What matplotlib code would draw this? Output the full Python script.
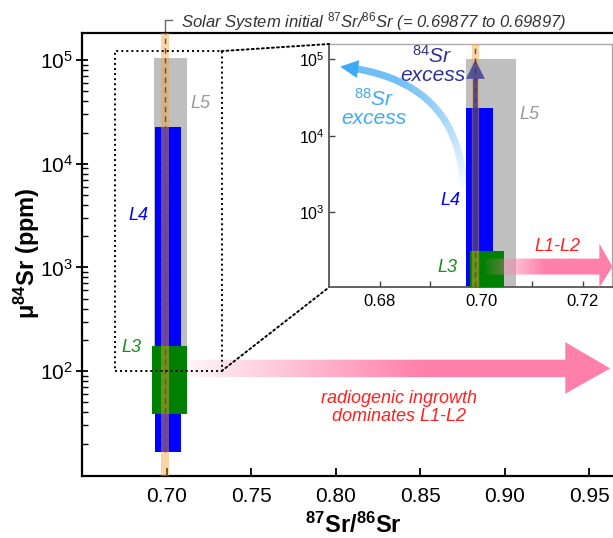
import numpy as np
import matplotlib
matplotlib.use('Agg')
import matplotlib.pyplot as plt
from matplotlib.patches import Polygon, Rectangle, ConnectionPatch
from matplotlib.collections import LineCollection
from matplotlib.colors import to_rgba
from matplotlib.ticker import FixedLocator, FormatStrFormatter, LogLocator, NullLocator

plt.rcParams['font.family'] = ['Liberation Sans', 'DejaVu Sans']
plt.rcParams['mathtext.fontset'] = 'custom'
plt.rcParams['mathtext.rm'] = 'Liberation Sans'
plt.rcParams['mathtext.it'] = 'Liberation Sans:italic'
plt.rcParams['mathtext.bf'] = 'Liberation Sans:bold'

# --- data ---
groups = ['L5', 'L4', 'L3']
group_colors = ['#bfbfbf', '#0000ff', '#008000']
label_colors = ['#999999', '#0000ff', '#1a8c1a']

# main panel bars (87Sr/86Sr range, mu84Sr range)
main_x_lo = [0.6923, 0.6931, 0.6915]
main_x_hi = [0.7120, 0.7085, 0.7120]
main_y_lo = [50, 16.5, 39]
main_y_hi = [1.05e5, 2.27e4, 173]

# zoomed panel bars
inset_x_lo = [0.6971, 0.6971, 0.6979]
inset_x_hi = [0.7069, 0.7023, 0.7046]
inset_y_lo = [50, 50, 50]
inset_y_hi = [1.0e5, 2.3e4, 316]

ss_initial = [0.69877, 0.69897]
ss_mid = np.mean(ss_initial)

main_xticks = [0.70, 0.75, 0.80, 0.85, 0.90, 0.95]
inset_xticks = [0.68, 0.70, 0.72]
inset_xminor = [0.69, 0.71]

pink = '#ff80aa'
sky = '#3fa9f5'
navy = '#2e3192'
orange = '#f7a23b'

fig = plt.figure(figsize=(6.13, 5.38), dpi=100)
ax = fig.add_axes([82 / 613, 62.3 / 538, 558 / 613, 442.4 / 538])
ax.set_yscale('log')
ax.set_xlim(0.65, 0.98)
ax.set_ylim(9.8, 10 ** 5.258)
ax.set_autoscale_on(False)


def to_axes(a, pts):
    return a.transAxes.inverted().transform(np.asarray(pts, dtype=float))


def gradient_arrow(a, x0, x_head, x_tip, y_shaft, y_head, x_full, a0, color, z):
    yc = np.sqrt(y_shaft[0] * y_shaft[1])
    verts = [(x0, y_shaft[0]), (x_head, y_shaft[0]), (x_head, y_head[0]), (x_tip, yc),
             (x_head, y_head[1]), (x_head, y_shaft[1]), (x0, y_shaft[1])]
    va = to_axes(a, a.transData.transform(verts))
    poly = Polygon(va, closed=True, transform=a.transAxes, facecolor='none', edgecolor='none')
    a.add_patch(poly)
    n = 300
    xs = np.linspace(x0, x_tip, n)
    alpha = np.clip(a0 + (1 - a0) * (xs - x0) / (x_full - x0), 0, 1)
    img = np.zeros((2, n, 4))
    img[..., :3] = to_rgba(color)[:3]
    img[..., 3] = alpha
    im = a.imshow(img, extent=[va[:, 0].min(), va[:, 0].max(), va[:, 1].min(), va[:, 1].max()],
                  transform=a.transAxes, aspect='auto', interpolation='bilinear',
                  origin='lower', zorder=z)
    im.set_clip_path(poly)


def straight_arrow(a, x, y0, y1, color, alpha, shaft_px, head_len, head_w, z):
    p0 = a.transData.transform((x, y0))
    p1 = a.transData.transform((x, y1))
    hb = p1[1] - head_len
    pts = [(p0[0] - shaft_px / 2, p0[1]), (p0[0] + shaft_px / 2, p0[1]),
           (p0[0] + shaft_px / 2, hb), (p0[0] + head_w / 2, hb), (p1[0], p1[1]),
           (p0[0] - head_w / 2, hb), (p0[0] - shaft_px / 2, hb)]
    a.add_patch(Polygon(to_axes(a, pts), closed=True, transform=a.transAxes,
                        facecolor=color, edgecolor='none', alpha=alpha, zorder=z))


def curved_arrow(a, p0, p1, p2, color, lw_px, head_len, head_w, z):
    P = a.transData.transform([p0, p1, p2])
    t = np.linspace(0, 1, 400)[:, None]
    pts = (1 - t) ** 2 * P[0] + 2 * (1 - t) * t * P[1] + t ** 2 * P[2]
    tip = P[2]
    keep = np.hypot(*(pts - tip).T) > head_len * 0.9
    shaft = pts[keep]
    d = tip - shaft[-1]
    d = d / np.hypot(*d)
    perp = np.array([-d[1], d[0]])
    base = tip - d * head_len
    head = [tip, base + perp * head_w / 2, base - perp * head_w / 2]
    sa = to_axes(a, shaft)
    segs = np.stack([sa[:-1], sa[1:]], axis=1)
    s = np.linspace(0, 1, len(segs))
    cols = np.tile(to_rgba(color), (len(segs), 1))
    cols[:, 3] = np.clip(s / 0.8, 0, 1)
    lc = LineCollection(segs, colors=cols, linewidths=lw_px * 0.72, capstyle='butt',
                        transform=a.transAxes, zorder=z)
    a.add_collection(lc)
    a.add_patch(Polygon(to_axes(a, head), closed=True, transform=a.transAxes,
                        facecolor=color, edgecolor='none', zorder=z))


# --- main panel ---
for i in range(3):
    ax.bar(main_x_lo[i], main_y_hi[i] - main_y_lo[i], width=main_x_hi[i] - main_x_lo[i],
           bottom=main_y_lo[i], align='edge', color=group_colors[i], lw=0, zorder=1 + i)
ax.axvline(ss_mid, color=orange, alpha=0.45, lw=5.8, zorder=4)
ax.plot([ss_mid, ss_mid], [main_y_lo[1], 10 ** 5.258], color='#555555', lw=1.0,
        dashes=(4, 3), zorder=5)

gradient_arrow(ax, main_x_hi[2], 0.9358, 0.9624, (87.5, 128.8), (60.5, 190), 0.85, 0.08, pink, 6)

ax.text(0.7201, 3.84e4, 'L5', color=label_colors[0], style='italic', fontsize=13,
        ha='center', va='center')
ax.text(0.6835, 3190, 'L4', color=label_colors[1], style='italic', fontsize=13,
        ha='center', va='center')
ax.text(0.6793, 169, 'L3', color=label_colors[2], style='italic', fontsize=13,
        ha='center', va='center')
ax.text(0.8377, 44.7, 'radiogenic ingrowth\ndominates L1-L2', color='#ff2020', style='italic',
        fontsize=13, ha='center', va='center', linespacing=1.05)

# zoom box
ax.add_patch(Rectangle((0.6694, 100), 0.7325 - 0.6694, 1.22e5 - 100, fill=False,
                       edgecolor='black', lw=1.4, linestyle=(0, (1, 1.6)), zorder=8))

# title bracket
ax.plot([ss_mid, ss_mid, 0.7035], [1.0, 1.03, 1.03], color='#666666', lw=1.0,
        transform=ax.get_xaxis_transform(), clip_on=False)
ax.text(0.7083, 1.027, r'Solar System initial $^{87}$Sr/$^{86}$Sr (= 0.69877 to 0.69897)',
        transform=ax.get_xaxis_transform(), style='italic', fontsize=12, color='#333333',
        ha='left', va='center')

ax.xaxis.set_major_locator(FixedLocator(main_xticks))
ax.xaxis.set_major_formatter(FormatStrFormatter('%.2f'))
ax.yaxis.set_major_locator(FixedLocator([1e2, 1e3, 1e4, 1e5]))
ax.yaxis.set_minor_locator(LogLocator(base=10, subs=np.arange(2, 10), numticks=20))
ax.tick_params(axis='y', which='major', direction='inout', length=9, width=1.3,
               labelsize=15, pad=2)
ax.tick_params(axis='y', which='minor', direction='in', length=4, width=1)
ax.tick_params(axis='x', which='major', direction='in', length=6, width=1.3,
               labelsize=15, pad=8)
for side in ['top', 'left', 'bottom']:
    ax.spines[side].set_linewidth(1.6)
ax.spines['right'].set_visible(False)

fig.text(27 / 613, 1 - 253 / 538, r'μ$^{\mathbf{84}}$Sr (ppm)', rotation=90, fontsize=17,
         fontweight='bold', ha='center', va='center')
fig.text(353 / 613, 1 - 525 / 538, r'$^{\mathbf{87}}$Sr/$^{\mathbf{86}}$Sr', fontsize=17,
         fontweight='bold', ha='center', va='center')

# --- inset ---
axi = fig.add_axes([329 / 613, 250.7 / 538, 283 / 613, 243.3 / 538])
axi.set_yscale('log')
axi.set_xlim(0.67, 0.7258)
axi.set_ylim(105, 1.58e5)
axi.set_autoscale_on(False)

for i in range(3):
    axi.bar(inset_x_lo[i], inset_y_hi[i] - inset_y_lo[i], width=inset_x_hi[i] - inset_x_lo[i],
            bottom=inset_y_lo[i], align='edge', color=group_colors[i], lw=0, zorder=1 + i)
axi.axvline(ss_mid, color=orange, alpha=0.45, lw=5.3, zorder=4)
axi.axvline(ss_mid, color='#555555', lw=1.0, dashes=(4, 3), zorder=5)

straight_arrow(axi, ss_mid, inset_y_hi[2], 9.8e4, navy, 0.75, 5, 19, 19, 6)
gradient_arrow(axi, 0.7008, 0.7233, 0.7259, (154, 249), (104, 391), 0.7126, 0.05, pink, 6)
curved_arrow(axi, (0.6965, 1900), (0.6961, 5.5e4), (0.6722, 8.0e4), sky, 7, 18, 18, 6)

axi.text(0.6904, 8.4e4, r'$^{\mathit{84}}$Sr' + '\nexcess', color=navy, style='italic',
         fontsize=15, ha='center', va='center', linespacing=0.95)
axi.text(0.6789, 2.3e4, r'$^{\mathit{88}}$Sr' + '\nexcess', color=sky, style='italic',
         fontsize=15, ha='center', va='center', linespacing=0.95)
axi.text(0.7095, 1.88e4, 'L5', color=label_colors[0], style='italic', fontsize=13,
         ha='center', va='center')
axi.text(0.6940, 1420, 'L4', color=label_colors[1], style='italic', fontsize=13,
         ha='center', va='center')
axi.text(0.6934, 190, 'L3', color=label_colors[2], style='italic', fontsize=13,
         ha='center', va='center')
axi.text(0.7150, 357, 'L1-L2', color='#ff2020', style='italic', fontsize=13,
         ha='center', va='center')

axi.xaxis.set_major_locator(FixedLocator(inset_xticks))
axi.xaxis.set_minor_locator(FixedLocator(inset_xminor))
axi.xaxis.set_major_formatter(FormatStrFormatter('%.2f'))
axi.yaxis.set_major_locator(FixedLocator([1e3, 1e4, 1e5]))
axi.yaxis.set_minor_locator(NullLocator())
axi.tick_params(axis='both', which='both', direction='in', length=4, width=1,
                color='#444444')
axi.tick_params(axis='x', labelsize=12, pad=5)
axi.tick_params(axis='y', labelsize=11.5, pad=3)
for side in ['left', 'bottom']:
    axi.spines[side].set_color('#555555')
    axi.spines[side].set_linewidth(1.3)
for side in ['top', 'right']:
    axi.spines[side].set_color('#aaaaaa')
    axi.spines[side].set_linewidth(1.0)

for xy_main, xy_in in [((0.7325, 1.22e5), (0, 1)), ((0.7325, 100), (0, 0))]:
    con = ConnectionPatch(xyA=xy_main, coordsA=ax.transData, xyB=xy_in, coordsB=axi.transAxes,
                          color='black', lw=1.4, linestyle=(0, (1, 1.6)), zorder=8)
    fig.add_artist(con)

ax.set_xlim(0.65, 0.98)
ax.set_ylim(9.8, 10 ** 5.258)
axi.set_xlim(0.67, 0.7258)
axi.set_ylim(105, 1.58e5)

fig.savefig('out.png', dpi=100)
